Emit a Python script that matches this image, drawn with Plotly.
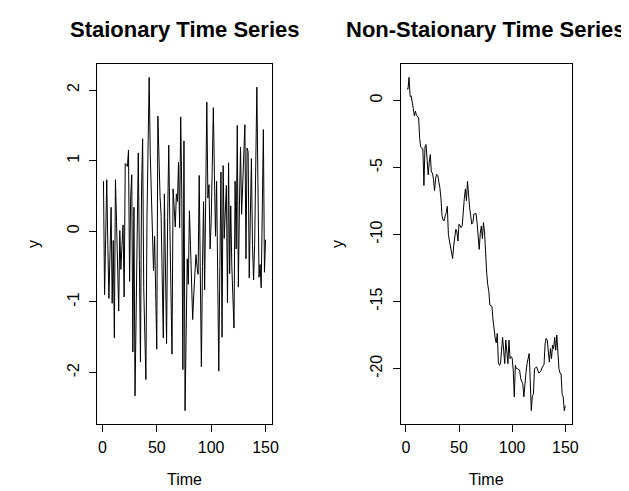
import plotly.graph_objects as go

# ---------------- data ----------------
time = list(range(1, 151))

stationary = [
    0.71, -0.90, -0.10, 0.73, -0.20, -0.95, -0.30, 0.34, -1.02, -0.13,
    -1.51, 0.73, 0.14, -0.40, -1.13, 0.01, -0.54, -0.20, 0.09, -0.93,
    0.96, 0.94, 0.92, 1.15, -0.71, 0.49, 0.80, -1.71, 0.34, -2.33,
    -1.38, -0.50, 1.11, -0.40, -1.85, 0.60, 1.31, -0.80, -1.30, -2.10,
    0.20, 1.20, 2.18, 1.10, 0.40, -0.07, -0.56, -0.07, -0.90, -1.67,
    1.63, 1.00, 0.50, 0.21, -0.90, -1.51, 0.53, -0.60, -1.59, 0.20,
    1.22, 0.10, -1.00, -1.74, 0.60, 0.30, 0.06, 0.53, 0.42, 0.98,
    0.05, 1.62, 0.50, -1.96, 1.28, -2.54, -1.20, -0.39, -0.75, 0.29,
    -0.20, -0.80, -1.25, -0.90, -0.55, -0.33, -0.50, -0.61, 0.79, -0.60,
    -1.92, -0.50, 0.42, -0.83, 0.50, 1.83, 0.47, 0.66, -0.25, 0.14,
    0.90, 1.75, 0.80, -0.07, 0.71, -0.60, -1.98, -0.50, 0.84, -1.50,
    0.93, -0.10, 0.30, 0.65, -1.01, 0.97, -0.60, 0.36, -0.50, -1.00,
    -1.37, 0.71, -0.25, 1.50, -0.79, 0.37, 1.19, 0.24, 0.60, 1.00,
    1.51, -0.39, 1.18, 1.13, -0.66, 0.20, 1.03, -0.20, -0.69, -0.17,
    0.90, 2.04, 0.70, -0.65, -0.47, -0.80, 0.30, 1.44, -0.58, -0.12,
]

nonstationary = [
    0.90, 0.85, 1.73, 0.30, 0.35, 0.00, -0.60, -1.15, -0.80, -1.10,
    -1.20, -1.30, -2.83, -3.48, -3.55, -3.58, -6.34, -3.46, -3.28, -4.50,
    -5.54, -4.60, -4.03, -5.34, -5.39, -5.90, -6.72, -5.79, -5.50, -5.59,
    -5.96, -6.50, -7.29, -8.60, -8.92, -8.97, -8.60, -8.35, -7.89, -9.97,
    -10.48, -10.85, -11.30, -11.78, -10.85, -10.20, -9.60, -9.80, -10.48, -9.22,
    -9.40, -9.47, -9.35, -8.05, -7.30, -6.59, -7.47, -6.02, -7.47, -8.00,
    -8.60, -9.22, -9.10, -8.47, -8.45, -8.42, -9.10, -10.60, -11.10, -9.90,
    -9.35, -10.30, -9.10, -9.80, -11.60, -12.80, -13.73, -14.20, -15.24, -15.30,
    -15.36, -16.37, -17.24, -17.70, -18.07, -17.37, -19.50, -19.75, -19.62, -18.50,
    -17.67, -18.62, -19.62, -17.87, -18.62, -19.62, -17.87, -19.25, -19.10, -19.20,
    -20.10, -22.10, -19.75, -20.00, -20.00, -20.05, -20.10, -20.75, -21.00, -21.13,
    -22.10, -21.00, -20.30, -19.62, -19.20, -18.87, -20.88, -23.13, -22.00, -21.90,
    -20.00, -19.95, -19.87, -20.10, -20.33, -20.25, -20.18, -19.95, -19.82, -19.67,
    -18.12, -17.74, -17.87, -18.70, -19.50, -18.50, -19.25, -18.25, -18.50, -17.67,
    -18.62, -17.49, -18.75, -20.00, -20.33, -20.38, -21.90, -22.10, -23.13, -22.76,
]

x_tickvals = [0, 50, 100, 150]
x_ticktext = ["0", "50", "100", "150"]
left_tickvals = [-2, -1, 0, 1, 2]
left_ticktext = ["-2", "-1", "0", "1", "2"]
right_tickvals = [-20, -15, -10, -5, 0]
right_ticktext = ["-20", "-15", "-10", "-5", "0"]

titles = ["Staionary Time Series", "Non-Staionary Time Series"]
xlab = "Time"
ylab = "y"

# ---------------- layout ----------------
W, H = 629, 491
FONT = "Liberation Sans, Arial, sans-serif"
TICK_SIZE = 16
TITLE_SIZE = 22

def r_range(v):
    lo, hi = min(v), max(v)
    d = (hi - lo) * 0.04
    return [lo - d, hi + d]

box_top, box_bottom = 56, 416
left_box = (90, 267)
right_box = (397, 570)

ydom = [1 - box_bottom / H, 1 - box_top / H]

def axis_common():
    return dict(
        showline=True, mirror=True, linecolor="black", linewidth=1,
        ticks="outside", ticklen=7, tickwidth=1, tickcolor="black",
        showgrid=False, zeroline=False,
        tickfont=dict(family=FONT, size=TICK_SIZE, color="black"),
    )

fig = go.Figure()
fig.add_trace(go.Scatter(x=time, y=stationary, mode="lines",
                         line=dict(color="black", width=1),
                         xaxis="x", yaxis="y", showlegend=False))
fig.add_trace(go.Scatter(x=time, y=nonstationary, mode="lines",
                         line=dict(color="black", width=1),
                         xaxis="x2", yaxis="y2", showlegend=False))

xr = r_range(time)

fig.update_layout(
    width=W, height=H,
    margin=dict(l=0, r=0, t=0, b=0),
    paper_bgcolor="white", plot_bgcolor="white",
    font=dict(family=FONT, color="black"),
    xaxis=dict(domain=[left_box[0] / W, left_box[1] / W], range=xr,
               tickvals=x_tickvals, ticktext=x_ticktext, anchor="y",
               ticklabelstandoff=2,
               title=dict(text=xlab, font=dict(size=TICK_SIZE), standoff=18),
               **axis_common()),
    yaxis=dict(domain=ydom, range=r_range(stationary),
               tickvals=left_tickvals, ticktext=left_ticktext, anchor="x",
               tickangle=-90, ticklabelstandoff=4,
               title=dict(text=ylab, font=dict(size=TICK_SIZE), standoff=20),
               **axis_common()),
    xaxis2=dict(domain=[right_box[0] / W, right_box[1] / W], range=xr,
                tickvals=x_tickvals, ticktext=x_ticktext, anchor="y2",
                ticklabelstandoff=2,
                title=dict(text=xlab, font=dict(size=TICK_SIZE), standoff=18),
                **axis_common()),
    yaxis2=dict(domain=ydom, range=r_range(nonstationary),
                tickvals=right_tickvals, ticktext=right_ticktext, anchor="x2",
                tickangle=-90, ticklabelstandoff=4,
                title=dict(text=ylab, font=dict(size=TICK_SIZE), standoff=20),
                **axis_common()),
)

for i, (bx, t) in enumerate(zip([left_box, right_box], titles)):
    fig.add_annotation(
        text="<b>" + t + "</b>", xref="paper", yref="paper",
        x=(bx[0] + bx[1]) / 2 / W, y=1 - 21 / H,
        xanchor="center", yanchor="middle", showarrow=False,
        font=dict(family=FONT, size=TITLE_SIZE, color="black"),
    )

fig.write_html("out.html")
